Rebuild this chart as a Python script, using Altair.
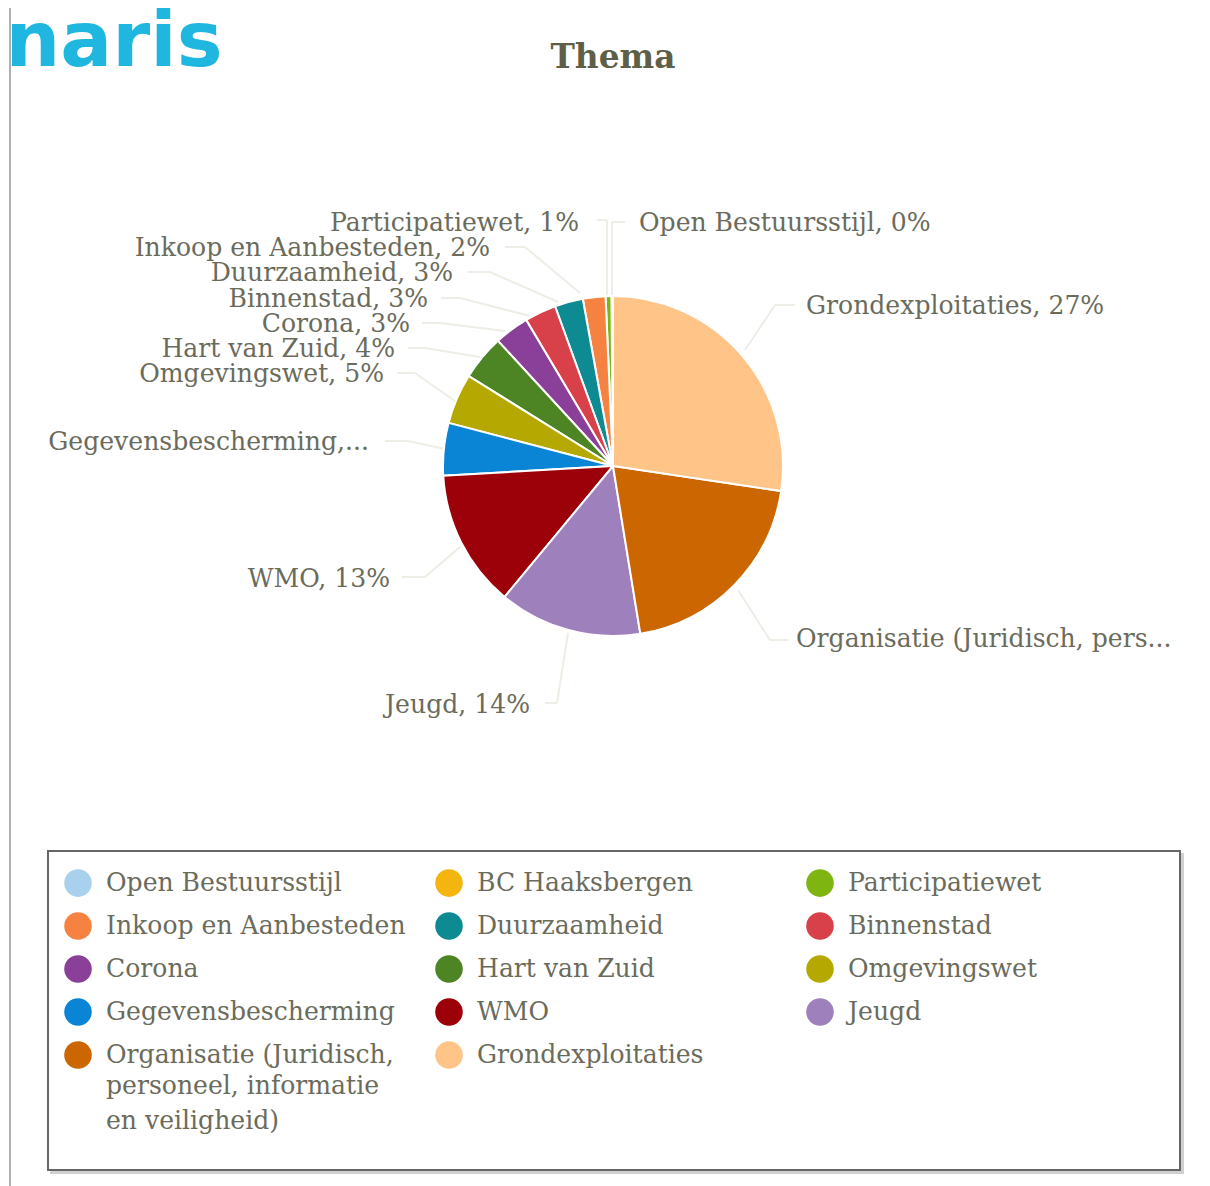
import altair as alt
import pandas as pd

names = ["Open Bestuursstijl", "BC Haaksbergen", "Participatiewet", "Inkoop en Aanbesteden",
         "Duurzaamheid", "Binnenstad", "Corona", "Hart van Zuid", "Omgevingswet",
         "Gegevensbescherming", "WMO", "Jeugd",
         "Organisatie (Juridisch, personeel, informatie en veiligheid)", "Grondexploitaties"]
values = [0.15, 0.0, 0.55, 2.15, 2.7, 3.0, 3.3, 4.3, 4.8, 5.0, 13.1, 13.6, 20.1, 27.4]
colors = ["#A9D1EE", "#F5B50F", "#7FB511", "#F58240", "#0E8B92", "#D8404A", "#8A3F99",
          "#4E8524", "#B5A800", "#0A84D4", "#9C0008", "#9D80BC", "#CC6600", "#FFC488"]

W, H = 1194, 1178
SERIF = "DejaVu Serif"
TEXT = "#6b6b5c"
LEADER = "#eeeee6"
FS = 25.1

df = pd.DataFrame({"name": names, "value": values, "idx": range(len(names))})
df["ord"] = -df["idx"]

def X(v):
    return alt.value(v - 8)

def Y(v):
    return alt.value(v - 8)

one = pd.DataFrame({"a": [1]})

def text(s, x, y, align="left", size=FS, color=TEXT, weight="normal", font=SERIF):
    return alt.Chart(one).mark_text(text=s, align=align, baseline="middle", fontSize=size,
                                    color=color, fontWeight=weight, font=font).encode(x=X(x), y=Y(y))

def seg(x1, y1, x2, y2, color=LEADER, w=2):
    return alt.Chart(one).mark_rule(color=color, strokeWidth=w).encode(
        x=X(x1), x2=X(x2), y=Y(y1), y2=Y(y2))

def leader(p, q, r):
    return [seg(*p, *q), seg(*q, *r)]

layers = []
layers.append(seg(10, 0, 10, 1186, color="#b0b0b0", w=2))
layers.append(text("naris", 5.5, 43, size=77, color="#1FB6E0", weight="bold", font="DejaVu Sans"))
layers.append(text("Thema", 613, 58, align="center", size=32.8, color="#5f5f48", weight="bold"))

for p, q, r in [
    ((745, 350), (775, 305), (795, 305)),
    ((738, 590), (770, 640), (788, 640)),
    ((568, 633), (557, 703), (545, 703)),
    ((460, 547), (425, 577), (402, 577)),
    ((445, 449), (408, 441), (385, 441)),
    ((455, 401), (415, 373), (397, 373)),
    ((480, 357), (425, 348), (408, 348)),
    ((505, 331), (440, 323), (422, 323)),
    ((530, 316), (460, 298), (441, 298)),
    ((558, 302), (490, 272), (468, 272)),
    ((580, 293), (525, 247), (505, 247)),
    ((607, 297), (607, 220), (597, 220)),
    ((612, 297), (612, 222), (625, 222)),
]:
    layers += leader(p, q, r)

for s, x, y, a in [
    ("Grondexploitaties, 27%", 806, 306, "left"),
    ("Organisatie (Juridisch, pers...", 796, 639, "left"),
    ("Jeugd, 14%", 530, 705, "right"),
    ("WMO, 13%", 390, 579, "right"),
    ("Gegevensbescherming,...", 369, 442, "right"),
    ("Omgevingswet, 5%", 384, 374, "right"),
    ("Hart van Zuid, 4%", 395, 349, "right"),
    ("Corona, 3%", 410, 324, "right"),
    ("Binnenstad, 3%", 428, 299, "right"),
    ("Duurzaamheid, 3%", 453, 273, "right"),
    ("Inkoop en Aanbesteden, 2%", 490, 248, "right"),
    ("Participatiewet, 1%", 579, 223, "right"),
    ("Open Bestuursstijl, 0%", 639, 223, "left"),
]:
    layers.append(text(s, x, y, a))

frame = alt.Chart(one)
layers.append(frame.mark_rect(fill="#d0d0d0").encode(x=X(50), x2=X(1184), y=Y(853), y2=Y(1174)))
layers.append(frame.mark_rect(fill="white", stroke="#666666", strokeWidth=2).encode(
    x=X(48), x2=X(1180), y=Y(851), y2=Y(1170)))
layers.append(text("personeel, informatie", 106, 1086))
layers.append(text("en veiligheid)", 106, 1121))

org = names[12]
legend = alt.Legend(
    orient="none", legendX=56, legendY=861, columns=3, direction="horizontal", title=None,
    symbolType="circle", symbolSize=760, symbolStrokeWidth=0, gridAlign="all",
    labelFont=SERIF, labelFontSize=FS, labelColor=TEXT, labelLimit=330,
    labelOffset=14, columnPadding=29, rowPadding=15,
    labelExpr=f"datum.label == '{org}' ? 'Organisatie (Juridisch,' : datum.label",
)

pie = alt.Chart(df).mark_arc(outerRadius=170, stroke="white", strokeWidth=2).encode(
    theta=alt.Theta("value:Q", stack=True),
    order=alt.Order("ord:Q"),
    color=alt.Color("name:N", sort=names, scale=alt.Scale(domain=names, range=colors), legend=legend),
    x=X(613), y=Y(466),
)
layers.append(pie)

chart = alt.layer(*layers).resolve_scale(color="independent").properties(
    width=W, height=H, padding=0, autosize=alt.AutoSizeParams(type="none")
).configure_view(stroke=None)

chart.save("out.html", embed_options={"renderer": "svg", "actions": False})
